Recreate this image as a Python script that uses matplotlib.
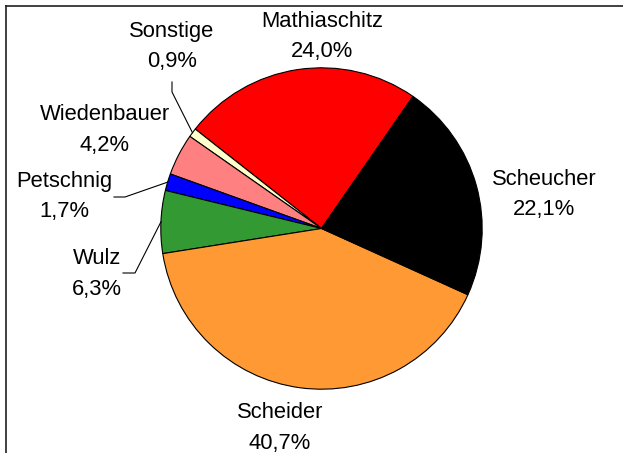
import numpy as np
import matplotlib.pyplot as plt
from matplotlib.lines import Line2D

plt.rcParams['font.family'] = ['Liberation Sans', 'DejaVu Sans']

# data (counter-clockwise from the red slice)
parties = ['Mathiaschitz', 'Sonstige', 'Wiedenbauer', 'Petschnig', 'Wulz', 'Scheider', 'Scheucher']
shares = [24.0, 0.9, 4.2, 1.7, 6.3, 40.7, 22.1]
colors = ['#FF0000', '#FFFFCC', '#FF8080', '#0000FF', '#339933', '#FF9933', '#000000']

# label anchors in pixels: x centre, baseline of name line
label_pos = {
    'Mathiaschitz': (322, 27),
    'Sonstige': (172, 37),
    'Wiedenbauer': (105, 120),
    'Petschnig': (64, 187),
    'Wulz': (97, 264),
    'Scheider': (280, 418),
    'Scheucher': (544, 185),
}
# leader lines: start point and elbow point (pixels)
leaders = {
    'Sonstige': [(172, 82), (172, 92)],
    'Petschnig': [(114, 197), (125, 197)],
    'Wulz': [(123, 273), (135, 273)],
}

W, H = 623, 453
fig = plt.figure(figsize=(W / 100, H / 100), dpi=100)
ax = fig.add_axes([0, 0, 1, 1])

cx, cy, r = 321.5, H - 228.5, 160.7
wedges, _ = ax.pie(shares, colors=colors, startangle=55.3, counterclock=True,
                   center=(cx, cy), radius=r,
                   wedgeprops=dict(edgecolor='black', linewidth=0.8))
ax.set_xlim(0, W)
ax.set_ylim(0, H)
ax.set_aspect('equal')
ax.axis('off')

fs = 15.8
for name, val in zip(parties, shares):
    x, yb = label_pos[name]
    pct = f"{val:.1f}".replace('.', ',') + '%'
    ax.text(x, H - yb, name, ha='center', va='baseline', fontsize=fs)
    ax.text(x, H - yb - 30.5, pct, ha='center', va='baseline', fontsize=fs)

for w, name in zip(wedges, parties):
    if name not in leaders:
        continue
    mid = np.deg2rad((w.theta1 + w.theta2) / 2)
    ex, ey = cx + r * np.cos(mid), cy + r * np.sin(mid)
    pts = leaders[name]
    xs = [p[0] for p in pts] + [ex]
    ys = [H - p[1] for p in pts] + [ey]
    ax.plot(xs, ys, color='black', linewidth=0.8)

# chart area border (left and top visible)
fig.add_artist(Line2D([5.5 / W, 5.5 / W], [0, 1 - 5.5 / H], color='#202020', linewidth=1.2))
fig.add_artist(Line2D([5.5 / W, 1], [1 - 5.5 / H, 1 - 5.5 / H], color='#202020', linewidth=1.2))

fig.savefig('out.png', dpi=100)
